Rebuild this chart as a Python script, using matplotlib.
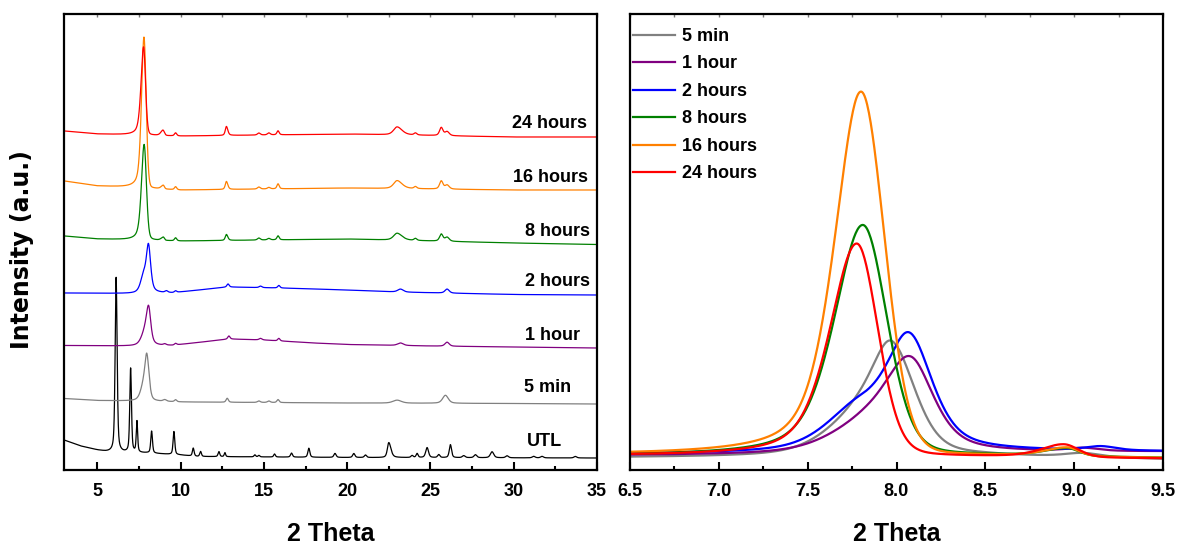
import numpy as np
import matplotlib
matplotlib.use('Agg')
import matplotlib.pyplot as plt
from matplotlib.ticker import MultipleLocator

plt.rcParams['font.family'] = ['Liberation Sans', 'DejaVu Sans']
plt.rcParams['font.weight'] = 'bold'

# ---------------- data ----------------
samples = ['UTL', '5 min', '1 hour', '2 hours', '8 hours', '16 hours', '24 hours']
colors = ['#000000', '#808080', '#800080', '#0000ff', '#008000', '#ff8000', '#ff0000']

# main reflection region (right panel units): (center, height, hwhm_left, hwhm_right, eta_left, eta_right)
zoom_peaks_5min = [(7.975, 88, 0.13, 0.15, 0.5, 0.3), (7.80, 40, 0.22, 0.25, 0.5, 0.5), (9.05, 4, 0.12, 0.12, 0.5, 0.5)]
zoom_peaks_1h = [(8.08, 78, 0.16, 0.15, 0.5, 0.5), (7.85, 30, 0.25, 0.30, 0.5, 0.5), (9.05, 3, 0.10, 0.10, 0.5, 0.5)]
zoom_peaks_2h = [(8.075, 95, 0.14, 0.15, 0.5, 0.5), (7.80, 45, 0.22, 0.30, 0.5, 0.5), (9.15, 4, 0.10, 0.10, 0.5, 0.5)]
zoom_peaks_8h = [(7.81, 231, 0.19, 0.16, 0.5, 0.2), (8.96, 8, 0.15, 0.08, 0.5, 0.3)]
zoom_peaks_16h = [(7.80, 364, 0.175, 0.155, 0.5, 0.1), (8.96, 9, 0.15, 0.08, 0.5, 0.3)]
zoom_peaks_24h = [(7.776, 213, 0.18, 0.14, 0.5, 0.15), (8.94, 13, 0.15, 0.10, 0.5, 0.2)]

# right panel baselines (x, y)
zoom_base_5min = [(6.5, 12.5), (8.5, 13.5), (9.5, 10.5)]
zoom_base_1h = [(6.5, 14.5), (7.5, 15), (8.5, 17), (9.5, 18)]
zoom_base_2h = [(6.5, 16), (7.5, 17), (8.5, 18), (9.5, 18)]
zoom_base_8h = [(6.5, 14), (8.5, 14), (9.5, 12)]
zoom_base_16h = [(6.5, 15), (8.5, 14), (9.5, 12)]
zoom_base_24h = [(6.5, 14), (8.5, 13), (9.5, 11.5)]

# scale of the main reflection in the left (stacked) panel
stack_scale = 0.415

# left panel baselines (x, y)
base_utl = [(3, 30), (4, 24), (5, 20), (5.5, 18.5), (6, 17.5), (8, 17), (9, 16), (10, 15), (11, 13.5), (20, 12.5), (35, 12)]
base_5min = [(3, 71.5), (5, 69.5), (7, 69), (10, 68), (20, 67), (30, 66.5), (35, 66)]
base_1h = [(3, 124.5), (7, 124), (9.5, 124.5), (12.9, 131), (15, 130), (18, 127), (20, 125.5), (25, 124), (35, 122)]
base_2h = [(3, 177), (7, 176.5), (9.5, 177), (12.8, 183), (16, 182), (20, 180), (23, 178), (30, 175.5), (35, 175)]
base_8h = [(3, 234), (5, 231), (7, 230), (10, 229), (20, 231), (30, 227), (35, 225.5)]
base_16h = [(3, 289), (5, 284), (7, 282.5), (10, 280), (20, 282), (30, 280), (35, 280)]
base_24h = [(3, 339), (5, 336), (7, 335), (10, 334), (20, 336), (30, 333), (35, 333)]

# left panel reflections: (center, height, hwhm_left, hwhm_right, eta_left, eta_right)
peaks_utl = [(6.13, 175, 0.07, 0.07, 0.5, 0.5), (7.0, 84, 0.06, 0.06, 0.5, 0.5), (7.38, 31, 0.05, 0.05, 0.5, 0.5),
             (8.26, 22, 0.06, 0.06, 0.5, 0.5), (9.6, 23, 0.06, 0.06, 0.5, 0.5), (10.76, 8, 0.06, 0.06, 0.5, 0.5),
             (11.2, 5, 0.06, 0.06, 0.5, 0.5), (12.3, 5, 0.06, 0.06, 0.5, 0.5), (12.66, 4, 0.05, 0.05, 0.5, 0.5),
             (14.46, 2, 0.06, 0.06, 0.5, 0.5), (14.7, 1.5, 0.06, 0.06, 0.5, 0.5), (15.64, 3, 0.06, 0.06, 0.5, 0.5),
             (16.66, 4, 0.07, 0.07, 0.5, 0.5), (17.7, 9, 0.07, 0.07, 0.5, 0.5), (19.27, 4, 0.08, 0.08, 0.5, 0.5),
             (20.4, 4, 0.08, 0.08, 0.5, 0.5), (21.1, 2.5, 0.08, 0.08, 0.5, 0.5), (22.5, 15, 0.10, 0.15, 0.5, 0.5),
             (23.9, 2, 0.08, 0.08, 0.5, 0.5), (24.2, 4, 0.07, 0.07, 0.5, 0.5), (24.8, 10, 0.10, 0.10, 0.5, 0.5),
             (25.5, 3, 0.08, 0.08, 0.5, 0.5), (26.2, 13, 0.08, 0.08, 0.5, 0.5), (27.0, 2, 0.10, 0.10, 0.5, 0.5),
             (27.7, 3, 0.10, 0.10, 0.5, 0.5), (28.7, 6, 0.12, 0.12, 0.5, 0.5), (29.6, 2, 0.10, 0.10, 0.5, 0.5),
             (31.2, 1.5, 0.10, 0.10, 0.5, 0.5), (31.7, 1.5, 0.10, 0.10, 0.5, 0.5), (33.7, 1.5, 0.10, 0.10, 0.5, 0.5)]
peaks_5min = [(9.7, 2, 0.08, 0.08, 0.5, 0.5), (12.8, 4, 0.08, 0.08, 0.5, 0.5), (14.7, 1.5, 0.1, 0.1, 0.5, 0.5),
              (15.3, 1.5, 0.1, 0.1, 0.5, 0.5), (15.85, 3, 0.08, 0.08, 0.5, 0.5), (23.0, 3, 0.3, 0.3, 0.5, 0.5),
              (25.9, 8, 0.2, 0.2, 0.5, 0.5)]
peaks_1h = [(9.7, 1.5, 0.08, 0.08, 0.5, 0.5), (12.9, 3, 0.08, 0.08, 0.5, 0.5), (14.8, 1.5, 0.1, 0.1, 0.5, 0.5),
            (15.9, 2.5, 0.08, 0.08, 0.5, 0.5), (23.2, 2.5, 0.2, 0.2, 0.5, 0.5), (26.0, 4, 0.15, 0.15, 0.5, 0.5)]
peaks_2h = [(9.7, 1.5, 0.08, 0.08, 0.5, 0.5), (12.85, 3, 0.08, 0.08, 0.5, 0.5), (14.8, 1.5, 0.1, 0.1, 0.5, 0.5),
            (15.9, 2.5, 0.08, 0.08, 0.5, 0.5), (23.2, 3, 0.2, 0.2, 0.5, 0.5), (26.0, 4, 0.15, 0.15, 0.5, 0.5)]
peaks_8h = [(9.7, 3, 0.08, 0.08, 0.5, 0.5), (12.75, 6, 0.08, 0.1, 0.5, 0.5), (14.7, 2, 0.1, 0.1, 0.5, 0.5),
            (15.3, 1.5, 0.1, 0.1, 0.5, 0.5), (15.85, 4, 0.08, 0.08, 0.5, 0.5), (23.0, 7, 0.25, 0.35, 0.5, 0.5),
            (24.1, 2, 0.1, 0.1, 0.5, 0.5), (25.65, 7, 0.12, 0.12, 0.5, 0.5), (26.0, 4, 0.15, 0.15, 0.5, 0.5)]
peaks_16h = [(9.7, 3, 0.08, 0.08, 0.5, 0.5), (12.75, 8, 0.08, 0.1, 0.5, 0.5), (14.7, 2, 0.1, 0.1, 0.5, 0.5),
             (15.3, 1.5, 0.1, 0.1, 0.5, 0.5), (15.85, 5, 0.08, 0.08, 0.5, 0.5), (23.0, 8, 0.25, 0.35, 0.5, 0.5),
             (24.1, 2, 0.1, 0.1, 0.5, 0.5), (25.65, 8, 0.12, 0.12, 0.5, 0.5), (26.0, 4, 0.15, 0.15, 0.5, 0.5)]
peaks_24h = [(9.7, 3, 0.08, 0.08, 0.5, 0.5), (12.75, 9, 0.08, 0.1, 0.5, 0.5), (14.7, 2, 0.1, 0.1, 0.5, 0.5),
             (15.3, 2, 0.1, 0.1, 0.5, 0.5), (15.85, 4, 0.08, 0.08, 0.5, 0.5), (23.0, 8, 0.25, 0.35, 0.5, 0.5),
             (24.1, 2, 0.1, 0.1, 0.5, 0.5), (25.65, 8, 0.12, 0.12, 0.5, 0.5), (26.0, 4, 0.15, 0.15, 0.5, 0.5)]

# curve label positions (x right edge, y centre) in left panel
label_x = [32.9, 33.45, 34.0, 34.55, 34.55, 34.45, 34.4]
label_y = [28, 82, 134, 188, 238, 293, 347]

left_xticks = [5, 10, 15, 20, 25, 30, 35]
right_xticks = [6.5, 7.0, 7.5, 8.0, 8.5, 9.0, 9.5]

# ---------------- helpers ----------------
def profile(x, peaks):
    y = np.zeros_like(x)
    for c, h, wl, wr, el, er in peaks:
        w = np.where(x < c, wl, wr)
        eta = np.where(x < c, el, er)
        u = ((x - c) / w) ** 2
        y += h * (eta / (1 + u) + (1 - eta) * np.exp(-np.log(2) * u))
    return y

def baseline(x, pts):
    px, py = zip(*pts)
    return np.interp(x, px, py)

zoom_peaks = [None, zoom_peaks_5min, zoom_peaks_1h, zoom_peaks_2h, zoom_peaks_8h, zoom_peaks_16h, zoom_peaks_24h]
zoom_bases = [None, zoom_base_5min, zoom_base_1h, zoom_base_2h, zoom_base_8h, zoom_base_16h, zoom_base_24h]
left_bases = [base_utl, base_5min, base_1h, base_2h, base_8h, base_16h, base_24h]
left_peaks = [peaks_utl, peaks_5min, peaks_1h, peaks_2h, peaks_8h, peaks_16h, peaks_24h]

# ---------------- figure ----------------
fig = plt.figure(figsize=(11.77, 5.44), dpi=100)
axL = fig.add_axes([64 / 1177, 74 / 544, 533 / 1177, 456 / 544])
axR = fig.add_axes([630 / 1177, 74 / 544, 533 / 1177, 456 / 544])

xl = np.arange(3.0, 35.0001, 0.01)
for i, name in enumerate(samples):
    y = baseline(xl, left_bases[i]) + profile(xl, left_peaks[i])
    if zoom_peaks[i] is not None:
        y = y + stack_scale * profile(xl, zoom_peaks[i])
    axL.plot(xl, y, color=colors[i], lw=0.9)
    axL.text(label_x[i], label_y[i], name, ha='right', va='center', fontsize=13, fontweight='bold')

xr = np.arange(6.5, 9.5001, 0.005)
handles = []
for i, name in enumerate(samples):
    if zoom_peaks[i] is None:
        continue
    y = baseline(xr, zoom_bases[i]) + profile(xr, zoom_peaks[i])
    h, = axR.plot(xr, y, color=colors[i], lw=1.6, label=name)
    handles.append(h)

axL.set_xlim(3, 35)
axL.set_ylim(0, 456)
axR.set_xlim(6.5, 9.5)
axR.set_ylim(0, 456)

for ax, ticks, minor in ((axL, left_xticks, 2.5), (axR, right_xticks, 0.25)):
    ax.set_xticks(ticks)
    ax.xaxis.set_minor_locator(MultipleLocator(minor))
    ax.set_yticks([])
    ax.tick_params(axis='x', which='major', direction='in', length=6, width=1.5, pad=9, labelsize=13)
    ax.tick_params(axis='x', which='minor', direction='in', length=3, width=1.5)
    for lab in ax.get_xticklabels():
        lab.set_fontweight('bold')
    for s in ax.spines.values():
        s.set_linewidth(1.6)
    ax.set_xlabel('2 Theta', fontsize=18, fontweight='bold')
    ax.xaxis.label.set_va('baseline')
    ax.xaxis.set_label_coords(0.5, -(541 - 470) / 456)
    sec = ax.secondary_xaxis('top')
    sec.set_xticks(ticks)
    sec.xaxis.set_minor_locator(MultipleLocator(minor))
    sec.tick_params(axis='x', which='both', direction='in', length=2, width=1.0,
                    colors='#777777', labeltop=False)
    sec.spines['top'].set_visible(False)

axR.set_xticklabels(['6.5', '7.0', '7.5', '8.0', '8.5', '9.0', '9.5'])
axL.set_ylabel('Intensity (a.u.)', fontsize=17, fontweight='bold', family=['DejaVu Sans'])
axL.yaxis.label.set_va('center')
axL.yaxis.set_label_coords((22 - 64) / 533, (470 - 250) / 456)

leg = axR.legend(handles=handles, loc='upper left', bbox_to_anchor=(3 / 533, 1 - (28 - 14) / 456),
                 frameon=False, prop={'weight': 'bold', 'size': 13}, handlelength=2.3,
                 handletextpad=0.4, labelspacing=0.58, borderaxespad=0.0, borderpad=0.0)
for line in leg.get_lines():
    line.set_linewidth(1.6)

fig.savefig('out.png', dpi=100)
